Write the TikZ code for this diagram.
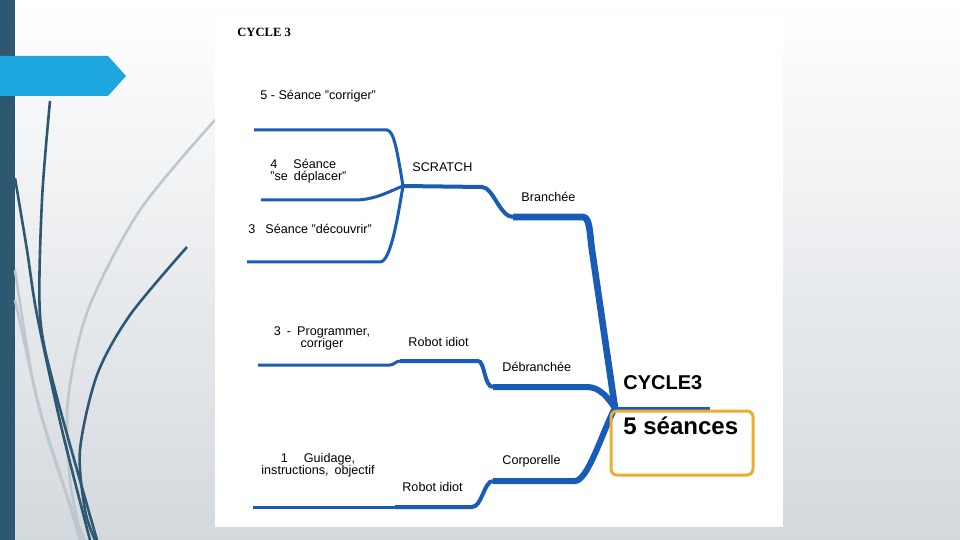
\documentclass[tikz,border=0pt]{standalone}
\usepackage{fontspec}
\setmainfont{Liberation Sans}
\newfontfamily\titlefont{Liberation Serif}

\definecolor{mapblue}{RGB}{24,92,184}
\definecolor{boxorange}{RGB}{238,172,50}
\definecolor{slidedark}{RGB}{46,88,114}
\definecolor{slidecyan}{RGB}{30,166,222}
\definecolor{slidegray}{RGB}{212,217,222}
\definecolor{curvegray}{RGB}{190,198,206}

\tikzset{
  leaf/.style={draw=mapblue, line width=1.5pt},
  twig/.style={draw=mapblue, line width=2pt},
  bough/.style={draw=mapblue, line width=3pt},
  maptext/.style={font=\fontsize{6.3}{6}\selectfont, inner sep=0pt, align=center},
  swirl/.style={slidedark, line width=1.3pt},
  paleswirl/.style={curvegray, line width=1.3pt}
}

\begin{document}
\begin{tikzpicture}[x=0.5pt, y=-0.5pt]

    \useasboundingbox (0,0) rectangle (960,540);

    % Draw the slide background
    \shade[top color=white, middle color=white!60!slidegray, bottom color=slidegray] (0,0) rectangle (960,540);
    \fill[slidedark] (0,0) rectangle (15,540);

    % Draw the curves on the left
    \draw[paleswirl] plot[smooth] coordinates {(215,120) (140,210) (88,310) (68,400) (70,480) (82,540)};
    \draw[paleswirl] plot[smooth] coordinates {(15,270) (33,382) (53,455) (77,522) (85,540)};
    \draw[paleswirl] plot[smooth] coordinates {(15,300) (40,410) (62,480) (80,540)};
    \draw[swirl] plot[smooth] coordinates {(50,101) (42,200) (40,315) (55,390) (97,540)};
    \draw[swirl] plot[smooth] coordinates {(15,178) (27,250) (37,315) (62,430) (90,540)};
    \draw[swirl] plot[smooth] coordinates {(187,247) (130,315) (97,375) (80,450) (85,510) (95,540)};
    \fill[slidecyan] (0,56) -- (108,56) -- (126,76) -- (108,96) -- (0,96) -- cycle;

    % Draw the white panel of the map
    \fill[white] (215,15) rectangle (783,527);
    \node[font=\titlefont\bfseries\fontsize{6.3}{7}\selectfont, anchor=west, inner sep=0pt] (title) at (237,32) {CYCLE 3};

    % Mark the junctions and the ends of the branches
    \coordinate (root) at (615,408);
    \coordinate (scr) at (403,186);
    \coordinate (s5) at (254,130);
    \coordinate (s4) at (261,200);
    \coordinate (s3) at (247,262);
    \coordinate (p3) at (258,365);
    \coordinate (g1) at (253,507);
    \coordinate (rootend) at (710,408);

    % Draw the SCRATCH branches
    \draw[leaf] (s5) -- (387,130) .. controls (394,131) and (397,150) .. (scr);
    \draw[leaf] (s4) -- (355,200) .. controls (375,200) and (390,191) .. (scr);
    \draw[leaf] (s3) -- (380,262) .. controls (391,262) and (398,215) .. (scr);
    \draw[twig] (scr) -- (482,187) .. controls (493,187) and (500,217) .. (513,217);
    \draw[bough, line width=3.3pt, line join=round] (513,217) -- (583,217) .. controls (590,217) and (589.7,234) .. (592,250) -- (root);

    % Draw the Robot idiot branches
    \draw[leaf] (p3) -- (390,365) .. controls (394,365) and (396,361) .. (400,361);
    \draw[twig] (400,361) -- (478,361) .. controls (485,361) and (484,387) .. (493,387);
    \draw[bough] (493,387) -- (587,387) .. controls (600,387) and (608,398) .. (root);
    \draw[leaf] (g1) -- (395,507);
    \draw[twig] (395,507) -- (472,507) .. controls (482,507) and (484,481) .. (493,481);
    \draw[bough] (493,481) -- (575,481) .. controls (588,481) and (603,430) .. (root);

    % Draw the central topic
    \draw[leaf] (root) -- (rootend);
    \draw[boxorange, line width=1.5pt, rounded corners=3pt] (611,411) rectangle (753,475);
    \node[font=\bfseries\fontsize{10}{12}\selectfont, anchor=west, inner sep=0pt] (cycle) at (623,383) {CYCLE3};
    \node[font=\bfseries\fontsize{12}{14}\selectfont, anchor=west, inner sep=0pt] (seances) at (623,426) {5 séances};

    % Add the labels of the branches
    \node[maptext, anchor=west] (corriger) at (260,96) {5 - Séance "corriger"};
    \node[maptext, anchor=west, align=left] (deplacer) at (270,171) {4\hspace{8pt}Séance\\"se\hspace{3pt}déplacer"};
    \node[maptext, anchor=west] (decouvrir) at (248,229) {3\hspace{5pt}Séance "découvrir"};
    \node[maptext, anchor=west] (scratch) at (412,167) {SCRATCH};
    \node[maptext, anchor=west] (branchee) at (521,197) {Branchée};
    \node[maptext] (programmer) at (322,338) {3\hspace{3pt}-\hspace{3pt}Programmer,\\corriger};
    \node[maptext, anchor=west] (robothaut) at (408,342) {Robot idiot};
    \node[maptext, anchor=west] (debranchee) at (502,367) {Débranchée};
    \node[maptext] (guidage) at (318,465) {1\hspace{8pt}Guidage,\\instructions,\hspace{3pt}objectif};
    \node[maptext, anchor=west] (corporelle) at (502,461) {Corporelle};
    \node[maptext, anchor=west] (robotbas) at (402,487) {Robot idiot};

\end{tikzpicture}
\end{document}
